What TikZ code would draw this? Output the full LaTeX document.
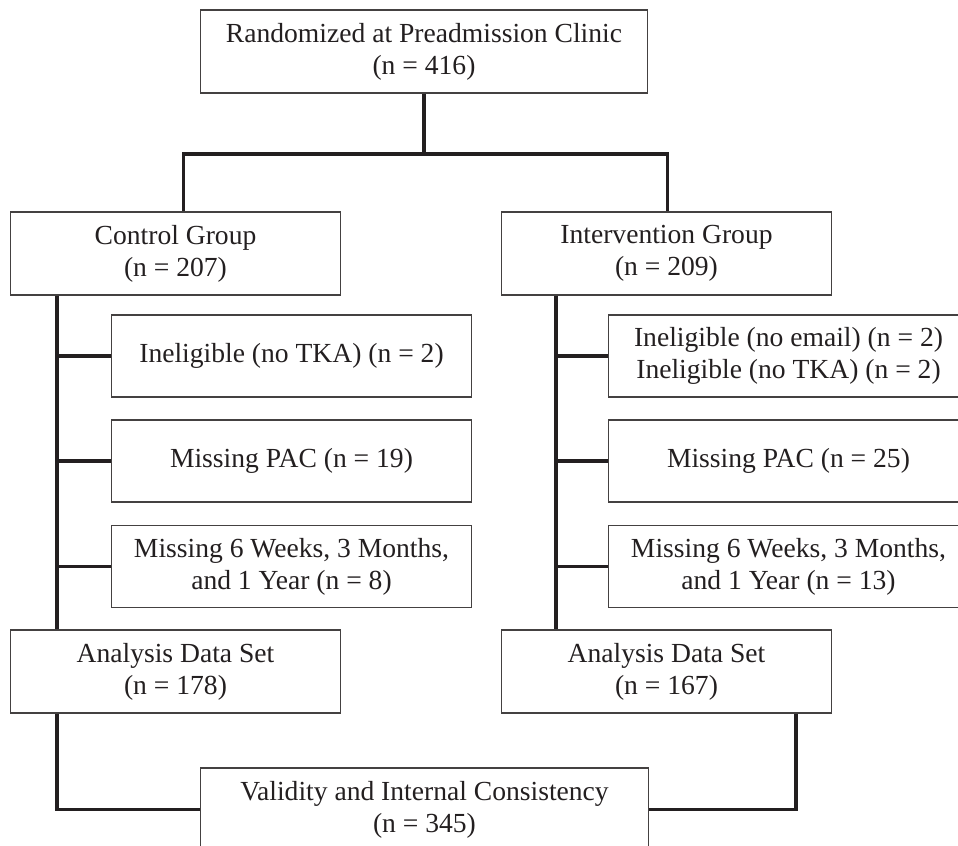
\documentclass[tikz,border=0pt]{standalone}
\usepackage{fontspec}
\setmainfont{Liberation Serif}
\usepackage{tikz}
\definecolor{inkCONS}{RGB}{35,31,32}

\begin{document}
\begin{tikzpicture}[
    x=0.02cm, y=-0.02cm,
    box/.style={draw=inkCONS!85,line width=0.6pt,minimum width=6.62cm,
                minimum height=1.66cm,align=center,inner sep=0pt,
                font=\fontsize{15.7}{18.2}\selectfont,text=inkCONS},
    wide/.style={box,minimum width=8.95cm},
    sub/.style={box,minimum width=7.22cm,minimum height=1.64cm},
    link/.style={draw=inkCONS,line width=1.75pt},
  ]
    \useasboundingbox (0,0) rectangle (958,846);
    \clip (0,0) rectangle (958,846);

    % Boxes
    \node[wide] (rand)  at (424,51.5)   {Randomized at Preadmission Clinic\\(n = 416)};
    \node[box]  (ctrl)  at (175.5,253.5) {Control Group\\(n = 207)};
    \node[box]  (intv)  at (666.5,253.5) {Intervention Group\\(n = 209)};

    \node[sub] (inelC) at (291.5,356)   {Ineligible (no TKA) (n = 2)};
    \node[sub] (pacC)  at (291.5,461)   {Missing PAC (n = 19)};
    \node[sub] (folC)  at (291.5,566.5) {Missing 6 Weeks, 3 Months,\\and 1 Year (n = 8)};

    \node[sub] (inelI) at (788.5,356)   {Ineligible (no email) (n = 2)\\Ineligible (no TKA) (n = 2)};
    \node[sub] (pacI)  at (788.5,461)   {Missing PAC (n = 25)};
    \node[sub] (folI)  at (788.5,566.5) {Missing 6 Weeks, 3 Months,\\and 1 Year (n = 13)};

    \node[box] (anaC)  at (175.5,671.5) {Analysis Data Set\\(n = 178)};
    \node[box] (anaI)  at (666.5,671.5) {Analysis Data Set\\(n = 167)};
    \node[wide] (valid) at (424.5,809.5) {Validity and Internal Consistency\\(n = 345)};

    % Spines
    \coordinate (spineC) at (57,0);
    \coordinate (spineI) at (556,0);
    \coordinate (joinI)  at (796,0);
    \coordinate (split)  at (0,154);

    % Links
    \draw[link] (rand.south) -- (rand.south |- split);
    \draw[link] ([xshift=4.5]ctrl.north) |- ([xshift=0.5]intv.north |- split)
      -- ([xshift=0.5]intv.north);

    \draw[link] (ctrl.south -| spineC) -- (anaC.north -| spineC);
    \foreach \b in {inelC,pacC,folC}
      \draw[link] (\b.west -| spineC) -- (\b.west);
    \draw[link] (intv.south -| spineI) -- (anaI.north -| spineI);
    \foreach \b in {inelI,pacI,folI}
      \draw[link] (\b.west -| spineI) -- (\b.west);

    \draw[link] (anaC.south -| spineC) |- (valid.west);
    \draw[link] (anaI.south -| joinI) |- (valid.east);

\end{tikzpicture}
\end{document}
